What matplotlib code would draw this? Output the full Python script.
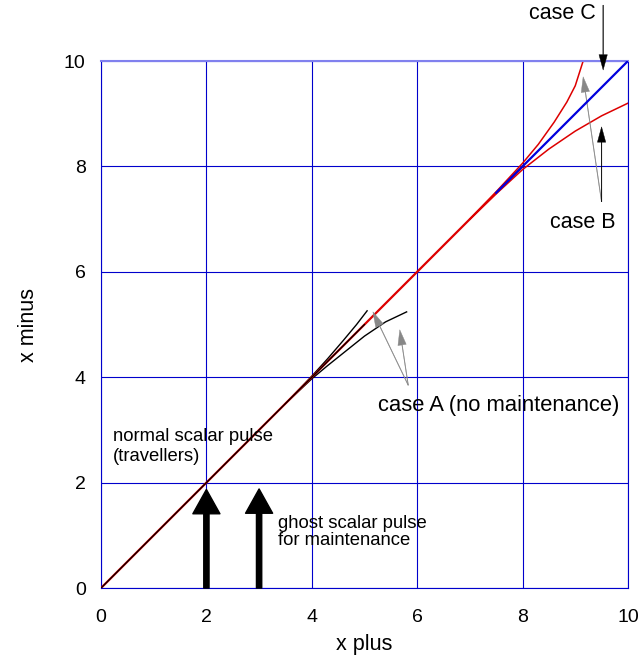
import matplotlib.pyplot as plt

plt.rcParams['font.family'] = ['Liberation Sans', 'DejaVu Sans']

# diagonal x- = x+ (normal pulse)
diag_x = [0, 10]
diag_y = [0, 10]

# case A (no maintenance): black curves
a_up_x = [3.5, 4.0, 4.3, 4.6, 4.85, 5.05]
a_up_y = [3.5, 4.02, 4.35, 4.7, 5.0, 5.26]
a_lo_x = [3.5, 4.0, 4.3, 4.6, 5.0, 5.4, 5.8]
a_lo_y = [3.5, 3.97, 4.22, 4.46, 4.78, 5.05, 5.24]

# case B: red curves
b_up_x = [7.0, 7.5, 8.0, 8.3, 8.6, 8.84, 9.0, 9.15]
b_up_y = [7.0, 7.52, 8.06, 8.42, 8.84, 9.22, 9.53, 10.0]
b_lo_x = [7.0, 7.5, 8.0, 8.5, 9.0, 9.5, 10.0]
b_lo_y = [7.0, 7.48, 7.94, 8.33, 8.67, 8.96, 9.2]

# ghost pulse arrows (x position, head height)
pulse_x = [2, 3]
pulse_top = [1.87, 1.88]

fig = plt.figure(figsize=(6.41, 6.59), dpi=100)
ax = fig.add_axes([0.1576, 0.1077, 0.822, 0.7997])

ax.plot(diag_x[:1] + [8.0], diag_y[:1] + [8.0], color='#dd0000', lw=1.6, zorder=3)
ax.plot(diag_x[:1] + [5.0], diag_y[:1] + [5.0], color='black', lw=0.9, zorder=4)
ax.plot([7.5, diag_x[1]], [7.5, diag_y[1]], color='#0000dd', lw=1.6, zorder=5)
ax.plot(a_up_x, a_up_y, color='black', lw=1.0, zorder=2)
ax.plot(a_lo_x, a_lo_y, color='black', lw=1.0, zorder=2)
ax.plot(b_up_x, b_up_y, color='#dd0000', lw=1.1)
ax.plot(b_lo_x, b_lo_y, color='#dd0000', lw=1.1)

ax.set_xlim(0, 10)
ax.set_ylim(0, 10)
ax.set_xticks([0, 2, 4, 6, 8, 10])
ax.set_yticks([0, 2, 4, 6, 8, 10])
ax.tick_params(axis='x', length=0, labelsize=14, pad=15)
ax.tick_params(axis='y', length=0, labelsize=14, pad=11)
ax.grid(True, color='#0000cc', lw=0.8)
for side in ['left', 'bottom', 'right']:
    ax.spines[side].set_color('#0000cc')
ax.spines['top'].set_color('#8080ee')
ax.spines['top'].set_linewidth(1.5)
ax.set_xlabel('x plus', fontsize=15.5, labelpad=6)
ax.set_ylabel('x minus', fontsize=15.5, labelpad=18)

# thick ghost-pulse arrows
for x, top in zip(pulse_x, pulse_top):
    ax.annotate('', xy=(x, top), xytext=(x, 0),
                arrowprops=dict(width=3.8, headwidth=19.5, headlength=17.5,
                                color='black', shrink=0))

small = dict(width=0.4, headwidth=6, headlength=11, shrink=0, lw=0.3)

# case C
ax.annotate('', xy=(9.53, 9.83), xytext=(9.53, 11.06),
            arrowprops=dict(color='black', **small), annotation_clip=False)
ax.text(8.12, 10.9, 'case C', fontsize=15.5, ha='left', va='center')

# case B
ax.annotate('', xy=(9.15, 9.7), xytext=(9.5, 7.33),
            arrowprops=dict(color='#888888', **small))
ax.annotate('', xy=(9.5, 8.75), xytext=(9.5, 7.33),
            arrowprops=dict(color='black', **small))
ax.text(9.15, 6.94, 'case B', fontsize=15.5, ha='center', va='center')

# case A
ax.annotate('', xy=(5.16, 5.24), xytext=(5.83, 3.85),
            arrowprops=dict(color='#888888', **small))
ax.annotate('', xy=(5.67, 4.9), xytext=(5.83, 3.85),
            arrowprops=dict(color='#888888', **small))
ax.text(5.26, 3.47, 'case A (no maintenance)', fontsize=15.8, ha='left', va='center')

ax.text(0.23, 2.68, 'normal scalar pulse\n(travellers)', fontsize=13.3,
        ha='left', va='center', linespacing=1.2)
ax.text(3.35, 1.07, 'ghost scalar pulse\nfor maintenance', fontsize=13.3,
        ha='left', va='center', linespacing=1.0)

fig.savefig('out.png', dpi=100)
